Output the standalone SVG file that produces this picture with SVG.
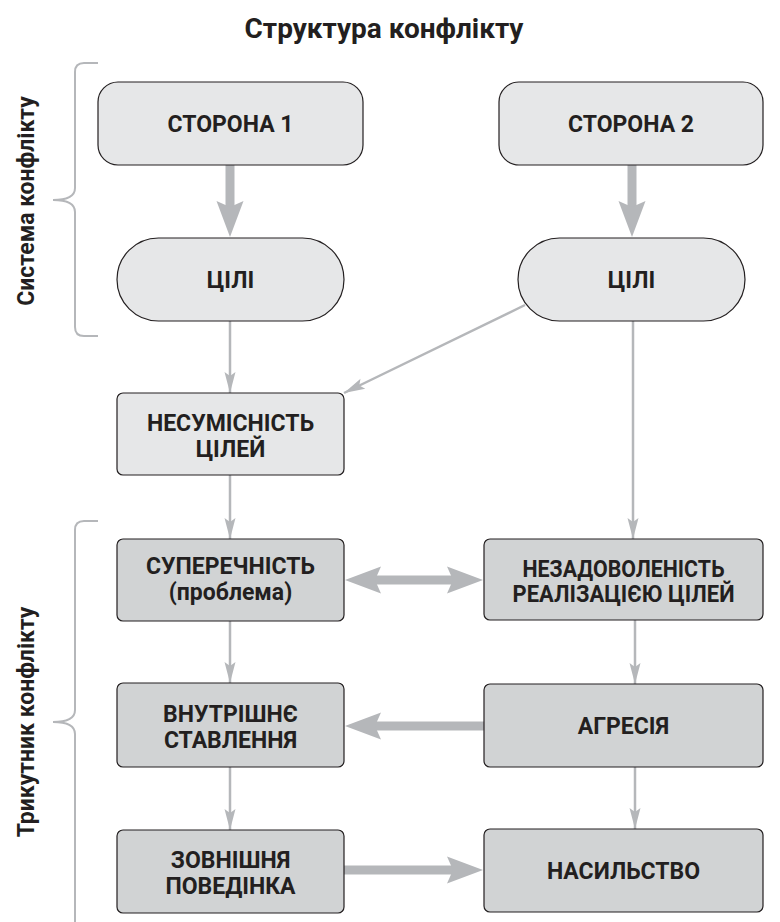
<svg xmlns="http://www.w3.org/2000/svg" width="780" height="922" viewBox="0 0 780 922">
<style>
.t{font-family:Roboto,"Liberation Sans",sans-serif;font-weight:bold;fill:#231f20;text-anchor:middle}
.lbl{font-size:23px}
.b1{fill:#e6e7e8;stroke:#231f20;stroke-width:1.2}
.b2{fill:#d1d3d4;stroke:#231f20;stroke-width:1.2}
.thin{stroke:#b5b7ba;stroke-width:2.5;fill:none}
.thick{stroke:#b5b7ba;stroke-width:9;fill:none}
.brace{stroke:#b5b7ba;stroke-width:2;fill:none}
</style>
<defs>
<marker id="ah" viewBox="-22 -6 23 12" refX="0" refY="0" markerWidth="23" markerHeight="12" markerUnits="userSpaceOnUse" orient="auto">
<path d="M0,0 L-21,-5.5 L-17,0 L-21,5.5 Z" fill="#b5b7ba"/>
</marker>
<marker id="AH" viewBox="-7 -14 38 28" refX="0" refY="0" markerWidth="38" markerHeight="28" markerUnits="userSpaceOnUse" orient="auto-start-reverse">
<path d="M30,0 L-6,-13.5 L0,0 L-6,13.5 Z" fill="#b5b7ba"/>
</marker>
</defs>
<rect width="780" height="922" fill="#fff"/>
<text class="t" x="384" y="38" font-size="28">Структура конфлікту</text>
<g id="braces">
<path class="brace" d="M98,63 H84 Q75,63 75,72 V188 Q75,200 53,200 Q75,200 75,212 V327 Q75,336 84,336 H98"/>
<path class="brace" d="M98,521 H84 Q75,521 75,530 V710 Q75,722 53,722 Q75,722 75,734 V930"/>
<text class="t lbl" transform="translate(34,201) rotate(-90)">Система конфлікту</text>
<text class="t lbl" transform="translate(34,722) rotate(-90)">Трикутник конфлікту</text>
</g>
<g id="connectors">
<line class="thick" x1="230" y1="165" x2="230" y2="207" marker-end="url(#AH)"/>
<line class="thick" x1="632" y1="165" x2="632" y2="207" marker-end="url(#AH)"/>
<line class="thin" x1="230" y1="321" x2="230" y2="393" marker-end="url(#ah)"/>
<line class="thin" x1="525" y1="305" x2="344" y2="393" marker-end="url(#ah)"/>
<line class="thin" x1="230" y1="475" x2="230" y2="539" marker-end="url(#ah)"/>
<line class="thin" x1="633" y1="321" x2="633" y2="539" marker-end="url(#ah)"/>
<line class="thin" x1="230" y1="621" x2="230" y2="683" marker-end="url(#ah)"/>
<line class="thin" x1="635" y1="620" x2="635" y2="684" marker-end="url(#ah)"/>
<line class="thin" x1="230" y1="767" x2="230" y2="830" marker-end="url(#ah)"/>
<line class="thin" x1="635" y1="767" x2="635" y2="829" marker-end="url(#ah)"/>
<line class="thick" x1="375" y1="580" x2="453" y2="580" marker-start="url(#AH)" marker-end="url(#AH)"/>
<line class="thick" x1="484" y1="726" x2="375" y2="726" marker-end="url(#AH)"/>
<line class="thick" x1="344" y1="870" x2="453" y2="870" marker-end="url(#AH)"/>
</g>
<g id="storona1">
<rect class="b1" x="98" y="82" width="265" height="83" rx="20"/>
<text class="t lbl" x="230.5" y="132">СТОРОНА 1</text>
</g>
<g id="storona2">
<rect class="b1" x="499" y="82" width="264" height="83" rx="20"/>
<text class="t lbl" x="631" y="132">СТОРОНА 2</text>
</g>
<g id="tsili1">
<rect class="b1" x="117" y="238" width="227" height="83" rx="41.5"/>
<text class="t lbl" x="230.5" y="288">ЦІЛІ</text>
</g>
<g id="tsili2">
<rect class="b1" x="518" y="238" width="227" height="83" rx="41.5"/>
<text class="t lbl" x="631.5" y="288">ЦІЛІ</text>
</g>
<g id="nesumisnist">
<rect class="b1" x="117" y="393" width="227" height="82" rx="6"/>
<text class="t lbl" x="230.5" y="431">НЕСУМІСНІСТЬ</text>
<text class="t lbl" x="230.5" y="457">ЦІЛЕЙ</text>
</g>
<g id="superechnist">
<rect class="b2" x="117" y="539" width="227" height="82" rx="6"/>
<text class="t lbl" x="230.5" y="574">СУПЕРЕЧНІСТЬ</text>
<text class="t lbl" x="230.5" y="600">(проблема)</text>
</g>
<g id="nezadovolenist">
<rect class="b2" x="484" y="539" width="279" height="81" rx="6"/>
<text class="t lbl" x="623.5" y="577" textLength="202" lengthAdjust="spacingAndGlyphs">НЕЗАДОВОЛЕНІСТЬ</text>
<text class="t lbl" x="623.5" y="602" textLength="222" lengthAdjust="spacingAndGlyphs">РЕАЛІЗАЦІЄЮ ЦІЛЕЙ</text>
</g>
<g id="vnutrishnie">
<rect class="b2" x="117" y="683" width="227" height="84" rx="6"/>
<text class="t lbl" x="230.5" y="722">ВНУТРІШНЄ</text>
<text class="t lbl" x="230.5" y="748">СТАВЛЕННЯ</text>
</g>
<g id="agresiia">
<rect class="b2" x="484" y="684" width="279" height="83" rx="6"/>
<text class="t lbl" x="623.5" y="734">АГРЕСІЯ</text>
</g>
<g id="zovnishnia">
<rect class="b2" x="117" y="830" width="227" height="83" rx="6"/>
<text class="t lbl" x="230.5" y="868">ЗОВНІШНЯ</text>
<text class="t lbl" x="230.5" y="894">ПОВЕДІНКА</text>
</g>
<g id="nasylstvo">
<rect class="b2" x="484" y="829" width="279" height="83" rx="6"/>
<text class="t lbl" x="623.5" y="879">НАСИЛЬСТВО</text>
</g>
</svg>
